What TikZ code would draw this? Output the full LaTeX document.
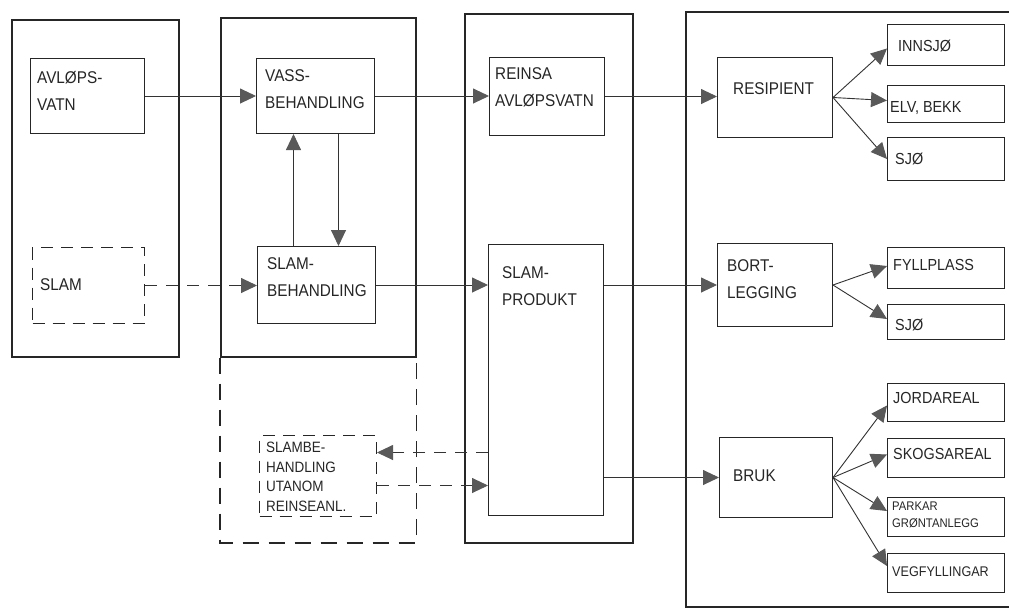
\documentclass[tikz,border=0pt]{standalone}
\usepackage{fontspec}
\setmainfont[FakeStretch=0.9]{Liberation Sans}
\usetikzlibrary{arrows.meta,calc}
\begin{document}
\begin{tikzpicture}[x=1pt,y=-1pt,
  outer/.style={draw=black!85, line width=1.6pt, inner sep=0pt, anchor=north west},
  box/.style={draw=black!85, line width=1pt, inner sep=0pt, anchor=north west},
  dbox/.style={box, dash pattern=on 12pt off 8pt},
  lbl/.style={anchor=north west, inner sep=0pt, align=left, text=black!85, font=\fontsize{17}{27}\selectfont},
  slbl/.style={anchor=west, inner sep=0pt, align=left, text=black!85, font=\fontsize{17}{27}\selectfont},
  rlbl/.style={anchor=west, inner sep=0pt, align=left, text=black!85, font=\fontsize{16}{18}\selectfont},
  conn/.style={draw=black!80, line width=0.9pt, -{Triangle[length=16pt,width=15pt,fill=black!65,color=black!65]}},
  dconn/.style={conn, dash pattern=on 12pt off 9pt}
]
\useasboundingbox (0,0) rectangle (1009,611);
\fill[white] (0,0) rectangle (1009,611);

% outer containers
\node[outer, minimum width=167pt, minimum height=337pt] (o1) at (11,19) {};
\node[outer, minimum width=195pt, minimum height=339pt] (o2) at (220,17) {};
\node[outer, minimum width=168pt, minimum height=529pt] (o3) at (464,13) {};
\draw[draw=black!85, line width=1.6pt] (1015,12) -- (686,12) -- (686,607) -- (1015,607);
\draw[draw=black!85, line width=1.6pt, dash pattern=on 16pt off 10pt]
  (o2.south west) -- (o2.south west |- 0,543) -- (o2.south east |- 0,543) -- (o2.south east);

% boxes
\node[box, minimum width=114pt, minimum height=75pt] (avl) at (30,58) {};
\node[dbox, minimum width=112pt, minimum height=76pt] (slam) at (32,247) {};
\node[box, minimum width=118pt, minimum height=75pt] (vass) at (256,58) {};
\node[box, minimum width=118pt, minimum height=77pt] (slb) at (257,246) {};
\node[dbox, minimum width=117pt, minimum height=81pt] (ut) at (259,435) {};
\node[box, minimum width=115pt, minimum height=78pt] (rav) at (489,57) {};
\node[box, minimum width=115pt, minimum height=271pt] (sp) at (488,244) {};
\node[box, minimum width=115pt, minimum height=80pt] (res) at (717,57) {};
\node[box, minimum width=115pt, minimum height=83pt] (bl) at (717,243) {};
\node[box, minimum width=113pt, minimum height=80pt] (bruk) at (719,437) {};
\node[box, minimum width=117pt, minimum height=41pt] (inn) at (887,24) {};
\node[box, minimum width=117pt, minimum height=37pt] (elv) at (887,85) {};
\node[box, minimum width=117pt, minimum height=43pt] (sj1) at (887,137) {};
\node[box, minimum width=117pt, minimum height=41pt] (fyl) at (887,247) {};
\node[box, minimum width=117pt, minimum height=35pt] (sj2) at (887,304) {};
\node[box, minimum width=117pt, minimum height=38pt] (jord) at (887,383) {};
\node[box, minimum width=117pt, minimum height=39pt] (skog) at (887,438) {};
\node[box, minimum width=117pt, minimum height=39pt] (park) at (887,497) {};
\node[box, minimum width=117pt, minimum height=39pt] (veg) at (887,553) {};

% labels
\node[lbl] (tavl) at (37,71) {AVLØPS-\\VATN};
\node[slbl] (tslam) at (40,285) {SLAM};
\node[lbl] (tvass) at (265,69) {VASS-\\BEHANDLING};
\node[lbl] (tslb) at (267,257) {SLAM-\\BEHANDLING};
\node[lbl, font=\fontsize{15}{19.5}\selectfont] (tut) at (266,442) {SLAMBE-\\HANDLING\\UTANOM\\REINSEANL.};
\node[lbl] (trav) at (495,67) {REINSA\\AVLØPSVATN};
\node[lbl] (tsp) at (502,266) {SLAM-\\PRODUKT};
\node[slbl] (tres) at (733,89) {RESIPIENT};
\node[lbl] (tbl) at (727,259) {BORT-\\LEGGING};
\node[slbl] (tbruk) at (733,476) {BRUK};
\node[rlbl] (tinn) at (898,46) {INNSJØ};
\node[rlbl] (telv) at (890,108) {ELV, BEKK};
\node[rlbl] (tsj1) at (895,159) {SJØ};
\node[rlbl] (tfyl) at (893,265) {FYLLPLASS};
\node[rlbl] (tsj2) at (895,325) {SJØ};
\node[rlbl] (tjord) at (893,398) {JORDAREAL};
\node[rlbl] (tskog) at (893,454) {SKOGSAREAL};
\node[lbl, font=\fontsize{12.5}{17}\selectfont] (tpark) at (892,502) {PARKAR\\GRØNTANLEGG};
\node[rlbl, font=\fontsize{14}{16}\selectfont] (tveg) at (892,572) {VEGFYLLINGAR};

% connectors
\draw[conn] (avl.east) -- (avl.east -| vass.west);
\draw[dconn] (slam.east) -- (slam.east -| slb.west);
\draw[conn] (vass.east) -- (vass.east -| rav.west);
\draw[conn] (slb.east) -- (slb.east -| sp.west);
\draw[conn] (rav.east) -- (rav.east -| res.west);
\draw[conn] (sp.east |- bl.west) -- (bl.west);
\draw[conn] (sp.east |- bruk.west) -- (bruk.west);
\coordinate (up) at ([xshift=-23pt]slb.north);
\coordinate (dn) at ([xshift=23pt]vass.south);
\draw[conn] (up) -- (up |- vass.south);
\draw[conn] (dn) -- (dn |- slb.north);
\coordinate (d1) at ([yshift=23.5pt]ut.east);
\coordinate (d2) at ([yshift=-9.5pt]ut.east);
\draw[dconn] (d1 -| sp.west) -- (d1);
\draw[dconn] (d2) -- (d2 -| sp.west);

\draw[conn] (res.east) -- ([yshift=-3.5pt]inn.west);
\draw[conn] (res.east) -- ([yshift=3.5pt]elv.west);
\draw[conn] (res.east) -- (sj1.west);
\draw[conn] (bl.east) -- ([yshift=2pt]fyl.west);
\draw[conn] (bl.east) -- ([yshift=3pt]sj2.west);
\draw[conn] (bruk.east) -- ([yshift=-3pt]jord.west);
\draw[conn] (bruk.east) -- ([yshift=3.5pt]skog.west);
\draw[conn] (bruk.east) -- ([yshift=6pt]park.west);
\draw[conn] (bruk.east) -- ([yshift=7pt]veg.west);
\end{tikzpicture}
\end{document}
